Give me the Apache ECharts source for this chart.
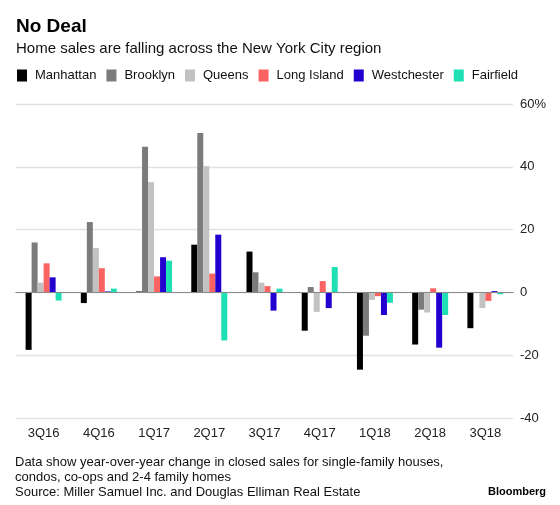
<!DOCTYPE html>
<html>
<head>
<meta charset="utf-8">
<script src="https://cdn.jsdelivr.net/npm/echarts@6/dist/echarts.min.js"></script>
<style>
html,body{margin:0;padding:0;background:#fff;}
#c{width:560px;height:505px;}
</style>
</head>
<body>
<div id="c"></div>
<script>
const categories = ['3Q16','4Q16','1Q17','2Q17','3Q17','4Q17','1Q18','2Q18','3Q18'];
const manhattan   = [-18.3, -3.4,  0.3, 15.2, 13.0, -12.2, -24.6, -16.6, -11.4];
const brooklyn    = [ 15.9, 22.4, 46.4, 50.8,  6.4,   1.7, -13.8,  -5.5,   0.0];
const queens      = [  3.1, 14.1, 35.1, 40.2,  3.1,  -6.2,  -2.4,  -6.4,  -5.0];
const longIsland  = [  9.25, 7.7,  5.1,  6.0,  2.0,   3.6,  -1.2,   1.3,  -2.7];
const westchester = [  4.8,  0.3, 11.2, 18.4, -5.8,  -5.0,  -7.2, -17.6,   0.4];
const fairfield   = [ -2.6,  1.2, 10.1, -15.3, 1.2,   8.1,  -3.3,  -7.2,  -0.6];
const seriesNames = ['Manhattan','Brooklyn','Queens','Long Island','Westchester','Fairfield'];
const seriesColors = ['#000000','#7b7b7b','#c2c2c2','#fb6262','#2300cf','#1fe0b4'];
const yTicks = [-40, -20, 0, 20, 40, 60];

const font = "'Liberation Sans', Arial, Helvetica, sans-serif";
const allData = [manhattan, brooklyn, queens, longIsland, westchester, fairfield];

const series = allData.map((d, i) => ({
  name: seriesNames[i],
  type: 'bar',
  data: d,
  barWidth: 6,
  barGap: '0%',
  itemStyle: { color: seriesColors[i] },
  silent: true,
  markLine: i === 0 ? {
    silent: true,
    symbol: 'none',
    label: { show: false },
    lineStyle: { color: '#8a8a8a', width: 1, type: 'solid' },
    data: [{ yAxis: 0 }],
    z: 10
  } : undefined
}));

const chart = echarts.init(document.getElementById('c'), null, { renderer: 'canvas' });
chart.setOption({
  animation: false,
  backgroundColor: '#ffffff',
  textStyle: { fontFamily: font },
  title: [
    { text: 'No Deal', left: 16, top: 17, padding: 0, textStyle: { fontFamily: font, fontSize: 19, fontWeight: 'bold', color: '#000' } },
    { text: 'Home sales are falling across the New York City region', left: 16, top: 41, padding: 0, textStyle: { fontFamily: font, fontSize: 15, fontWeight: 'normal', color: '#111' } }
  ],
  legend: {
    left: 17, top: 69, padding: 0,
    itemWidth: 10, itemHeight: 12, itemGap: 10,
    icon: 'rect',
    selectedMode: false,
    textStyle: { fontFamily: font, fontSize: 13, color: '#111', padding: [0, 0, 0, 3] },
    data: seriesNames
  },
  grid: { left: 16, right: 47, top: 104, bottom: 87, containLabel: false },
  xAxis: {
    type: 'category',
    data: categories,
    axisLine: { lineStyle: { color: '#555', width: 1 } },
    axisTick: { alignWithLabel: true, length: 4, lineStyle: { color: '#555' } },
    axisLabel: { fontFamily: font, fontSize: 13, color: '#222', margin: 9 },
    splitLine: { show: false }
  },
  yAxis: {
    type: 'value',
    position: 'right',
    min: yTicks[0], max: yTicks[yTicks.length - 1], interval: 20,
    axisLine: { show: false },
    axisTick: { show: false },
    axisLabel: {
      fontFamily: font, fontSize: 13, color: '#222', margin: 7,
      formatter: v => v === yTicks[yTicks.length - 1] ? v + '%' : String(v)
    },
    splitLine: { lineStyle: { color: '#e2e2e2', width: 1.3 } }
  },
  graphic: [
    { type: 'text', left: 15, top: 455, style: { text: 'Data show year-over-year change in closed sales for single-family houses,\ncondos, co-ops and 2-4 family homes\nSource: Miller Samuel Inc. and Douglas Elliman Real Estate', font: "13px 'Liberation Sans', Arial, sans-serif", fill: '#111', lineHeight: 15 } },
    { type: 'text', right: 14, top: 486, style: { text: 'Bloomberg', font: "bold 11px 'Liberation Sans', Arial, sans-serif", fill: '#000' } }
  ],
  series: series
});
</script>
</body>
</html>
